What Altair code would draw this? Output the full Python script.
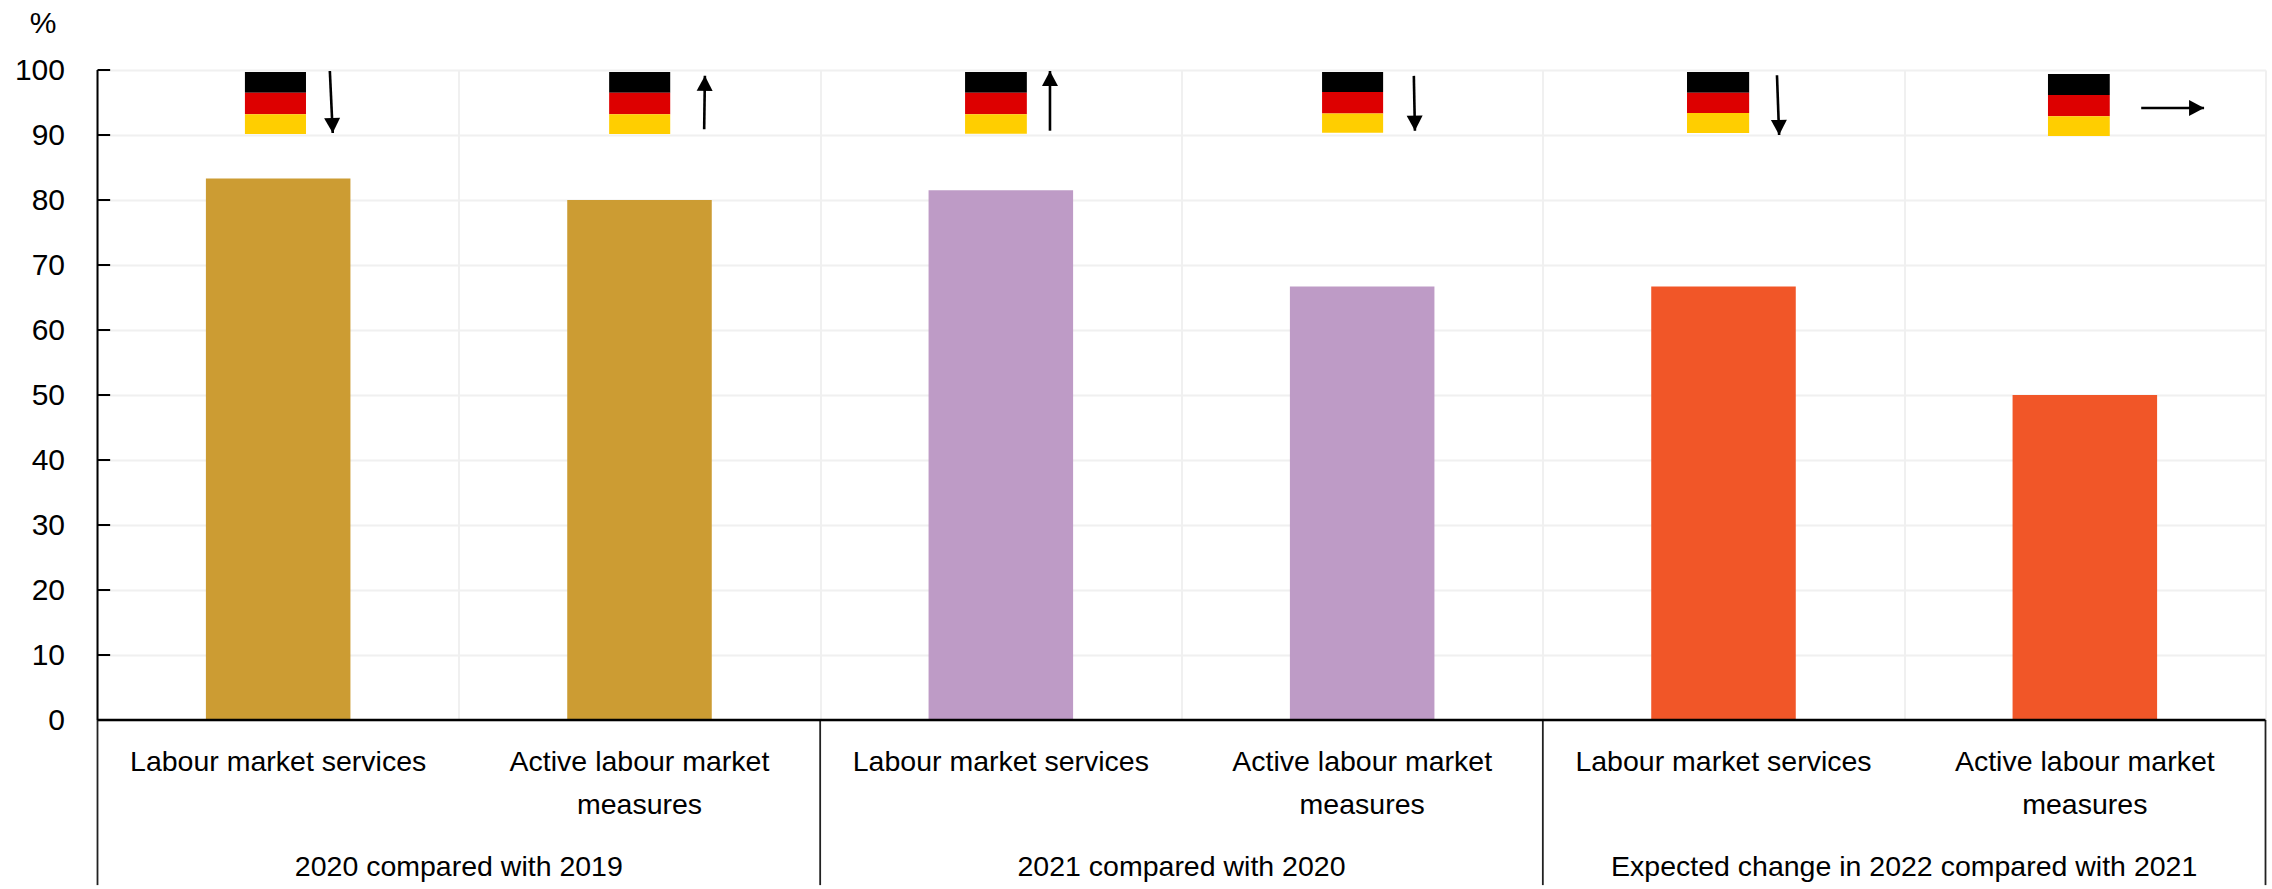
import altair as alt
import pandas as pd

# Bars: share of respondents per measure and comparison period
categories = ["Labour market services", "Active labour market measures"] * 3
values = [83.3, 80.0, 81.5, 66.7, 66.7, 50.0]
bar_colors = ["#CC9C33", "#CC9C33", "#BE9BC6", "#BE9BC6", "#F15628", "#F15628"]
slots = [0, 1, 2, 3, 4, 5]

# Axis furniture
y_ticks = [0, 10, 20, 30, 40, 50, 60, 70, 80, 90, 100]
x_ticks = [0, 1, 2, 3, 4, 5, 6]
group_edges = [0, 2, 4, 6]

# Lower-axis captions
first_line = ["Labour market services", "Active labour market", "Labour market services",
              "Active labour market", "Labour market services", "Active labour market"]
second_line = ["", "measures", "", "measures", "", "measures"]
groups = ["2020 compared with 2019", "2021 compared with 2020",
          "Expected change in 2022 compared with 2021"]
group_centres = [1, 3, 5]

# German flags above each bar, as slot positions and percent heights
flag_left = [0.408, 1.416, 2.401, 3.389, 4.399, 5.398]
flag_right = [0.577, 1.585, 2.572, 3.558, 4.571, 5.569]
flag_top = [99.7, 99.7, 99.7, 99.7, 99.7, 99.4]
flag_upper = [96.5, 96.5, 96.5, 96.6, 96.5, 96.15]
flag_lower = [93.2, 93.2, 93.2, 93.3, 93.4, 92.9]
flag_bottom = [90.15, 90.15, 90.2, 90.35, 90.3, 89.85]

# Direction-of-change arrows: start, tip and heading in degrees
arrow_x = [0.643, 1.679, 2.636, 3.643, 4.648, 5.656]
arrow_tip_x = [0.651, 1.681, 2.636, 3.646, 4.654, 5.830]
arrow_y = [99.85, 90.9, 90.66, 99.1, 99.2, 94.15]
arrow_tip_y = [90.3, 99.1, 99.85, 90.66, 90.0, 94.15]
arrow_heading = [177.6, 1, 0, 179, 179, 90]

FONT = "Liberation Sans"
WIDTH, HEIGHT = 2168, 650

x_scale = alt.Scale(domain=[0, 6], nice=False, zero=False)
y_scale = alt.Scale(domain=[0, 100], nice=False)

bars_df = pd.DataFrame({
    "x0": [s + 0.3 for s in slots], "x1": [s + 0.7 for s in slots],
    "value": values, "color": bar_colors, "category": categories,
})

# Gridlines come from the axes; the bars sit on top of them
bars = alt.Chart(bars_df).mark_rect().encode(
    x=alt.X("x0:Q", scale=x_scale, axis=alt.Axis(
        values=x_ticks, grid=True, gridColor="#F0F0F0", gridWidth=2,
        labels=False, ticks=False, domain=False, title=None)),
    x2="x1:Q",
    y=alt.Y("value:Q", scale=y_scale, axis=alt.Axis(
        values=y_ticks, grid=True, gridColor="#F0F0F0", gridWidth=2,
        ticks=False, domain=False, labelFont=FONT, labelFontSize=30, labelColor="#000000",
        labelPadding=33, labelOffset=0, labelOverlap=False,
        labelBound=False, labelFlush=False,
        title="%", titleAngle=0, titleFont=FONT, titleFontSize=30, titleFontWeight="normal",
        titleColor="#000000", titleAlign="center", titleBaseline="middle",
        titleX=-55, titleY=-47)),
    y2=alt.Y2(datum=0),
    color=alt.Color("color:N", scale=None),
)

# Left axis line and its inward-pointing ticks
axis_line = alt.Chart(pd.DataFrame({"x": [0], "y0": [0], "y1": [100]})).mark_rule(
    color="#000000", strokeWidth=2).encode(
    x=alt.X("x:Q", scale=x_scale), y=alt.Y("y0:Q", scale=y_scale), y2="y1:Q")

tick_df = pd.DataFrame({"y": y_ticks, "x0": 0, "x1": 0.035})
tick_marks = alt.Chart(tick_df).mark_rule(color="#000000", strokeWidth=2).encode(
    x=alt.X("x0:Q", scale=x_scale), x2="x1:Q", y=alt.Y("y:Q", scale=y_scale))

baseline = alt.Chart(pd.DataFrame({"x0": [0], "x1": [6], "y": [0]})).mark_rule(
    color="#000000", strokeWidth=2.5).encode(
    x=alt.X("x0:Q", scale=x_scale), x2="x1:Q", y=alt.Y("y:Q", scale=y_scale))

# Separators between the comparison periods, running below the baseline
sep_df = pd.DataFrame({"x": group_edges, "y0": 0, "y1": -25.4})
separators = alt.Chart(sep_df).mark_rule(color="#222222", strokeWidth=1.8).encode(
    x=alt.X("x:Q", scale=x_scale), y=alt.Y("y0:Q", scale=y_scale), y2="y1:Q")


def caption(xs, labels, level):
    frame = pd.DataFrame({"x": xs, "label": labels, "y": level})
    return alt.Chart(frame).mark_text(
        font=FONT, fontSize=28.5, color="#000000", align="center", baseline="middle"
    ).encode(
        x=alt.X("x:Q", scale=x_scale),
        y=alt.Y("y:Q", scale=y_scale),
        text="label:N",
    )


line_one = caption([s + 0.5 for s in slots], first_line, -6.5)
line_two = caption([s + 0.5 for s in slots], second_line, -13.1)
line_three = caption(group_centres, groups, -22.6)

# Three-band flags
bands = []
for top, bottom, shade in [(flag_top, flag_upper, "#000000"),
                           (flag_upper, flag_lower, "#DD0000"),
                           (flag_lower, flag_bottom, "#FFCE00")]:
    frame = pd.DataFrame({"x0": flag_left, "x1": flag_right, "y0": top, "y1": bottom})
    bands.append(alt.Chart(frame).mark_rect(color=shade).encode(
        x=alt.X("x0:Q", scale=x_scale), x2="x1:Q",
        y=alt.Y("y0:Q", scale=y_scale), y2="y1:Q"))

arrow_df = pd.DataFrame({"x0": arrow_x, "x1": arrow_tip_x, "y0": arrow_y,
                         "y1": arrow_tip_y, "heading": arrow_heading})
shafts = alt.Chart(arrow_df).mark_rule(color="#000000", strokeWidth=2.6).encode(
    x=alt.X("x0:Q", scale=x_scale), x2="x1:Q",
    y=alt.Y("y0:Q", scale=y_scale), y2="y1:Q")
heads = alt.Chart(arrow_df).mark_point(
    shape="M0,0L-0.5,0.94L0.5,0.94Z", filled=True, color="#000000", opacity=1, size=1024
).encode(
    x=alt.X("x1:Q", scale=x_scale),
    y=alt.Y("y1:Q", scale=y_scale),
    angle=alt.Angle("heading:Q", scale=None),
)

chart = alt.layer(
    bars, *bands, shafts, heads, axis_line, tick_marks, separators, baseline,
    line_one, line_two, line_three,
).properties(
    width=WIDTH, height=HEIGHT,
    autosize=alt.AutoSizeParams(type="none"),
    padding={"left": 97.5, "top": 70, "right": 6.5, "bottom": 169},
    background="#FFFFFF",
).configure_view(stroke=None)

chart.save("out.html", embed_options={"renderer": "svg", "actions": False})
